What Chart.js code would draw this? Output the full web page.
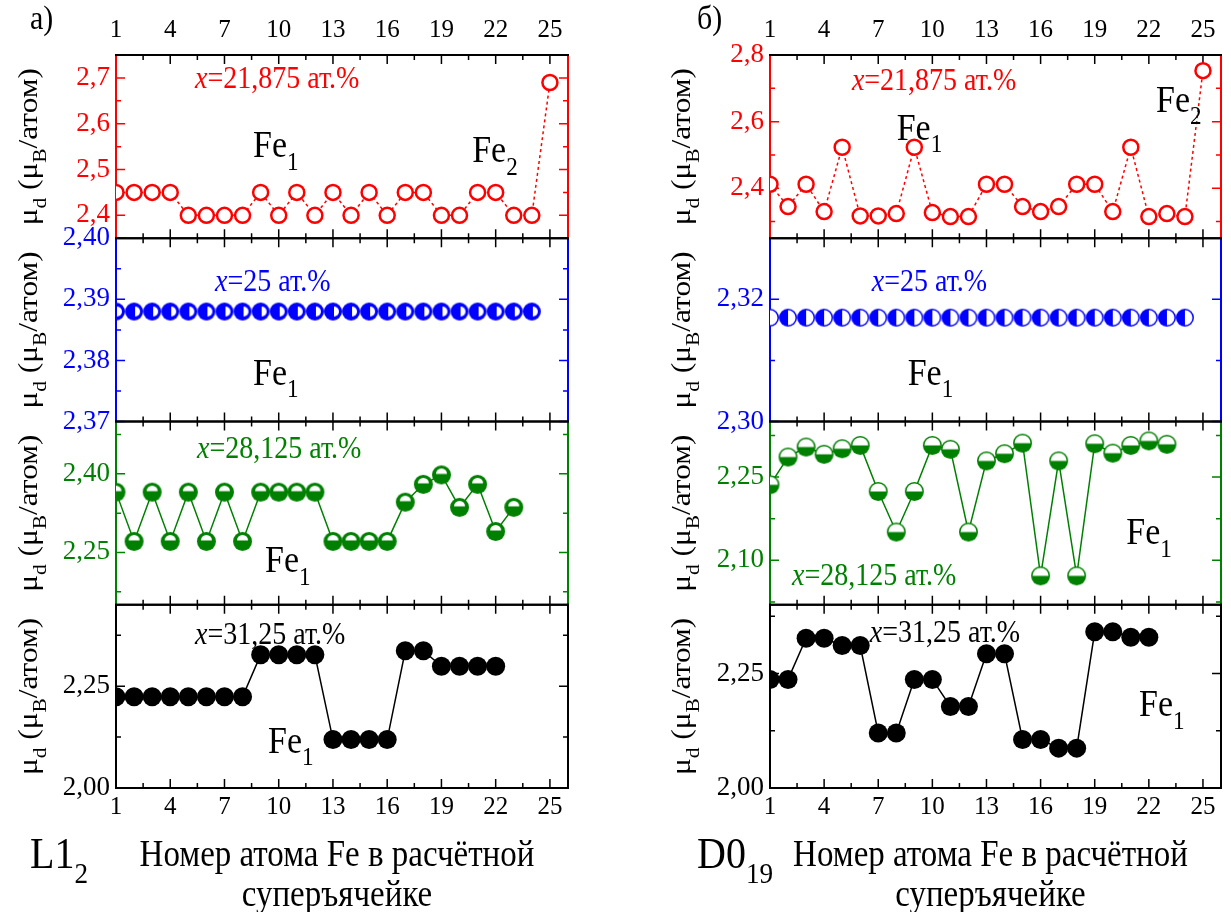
<!DOCTYPE html>
<html>
<head>
<meta charset="utf-8">
<script src="https://cdn.jsdelivr.net/npm/chart.js@4.4.0/dist/chart.umd.min.js"></script>
<style>
  body { margin: 0; background: #fff; width: 1231px; height: 912px; position: relative; overflow: hidden; }
  canvas { position: absolute; top: 0; }
  #l12 { left: 0; }
  #d019 { left: 640px; }
</style>
</head>
<body>
<canvas id="l12" width="620" height="912"></canvas>
<canvas id="d019" width="591" height="912"></canvas>
<script>
// номера атомов Fe в суперъячейке
const atoms = [1, 2, 3, 4, 5, 6, 7, 8, 9, 10, 11, 12, 13, 14, 15, 16, 17, 18, 19, 20, 21, 22, 23, 24, 25];
const atomTicks = [1, 4, 7, 10, 13, 16, 19, 22, 25];

// L1_2: магнитный момент mu_d для x = 21,875 / 25 / 28,125 / 31,25 ат.%
const l12Red = [2.45, 2.45, 2.45, 2.45, 2.40, 2.40, 2.40, 2.40, 2.45, 2.40, 2.45, 2.40, 2.45,
                2.40, 2.45, 2.40, 2.45, 2.45, 2.40, 2.40, 2.45, 2.45, 2.40, 2.40, 2.69];
const l12Blue = [2.388, 2.388, 2.388, 2.388, 2.388, 2.388, 2.388, 2.388, 2.388, 2.388, 2.388, 2.388,
                 2.388, 2.388, 2.388, 2.388, 2.388, 2.388, 2.388, 2.388, 2.388, 2.388, 2.388, 2.388];
const l12Green = [2.365, 2.271, 2.365, 2.271, 2.365, 2.271, 2.365, 2.271, 2.365, 2.365, 2.365, 2.365,
                  2.271, 2.271, 2.271, 2.271, 2.346, 2.380, 2.398, 2.336, 2.380, 2.290, 2.336];
const l12Black = [2.224, 2.224, 2.224, 2.224, 2.224, 2.224, 2.224, 2.224, 2.327, 2.327, 2.327,
                  2.327, 2.119, 2.119, 2.119, 2.119, 2.337, 2.337, 2.299, 2.299, 2.299, 2.299];

// D0_19
const d019Red = [2.412, 2.345, 2.412, 2.330, 2.523, 2.317, 2.317, 2.324, 2.523, 2.327, 2.315, 2.315, 2.412,
                 2.412, 2.345, 2.330, 2.345, 2.412, 2.412, 2.330, 2.523, 2.315, 2.324, 2.315, 2.753];
const d019Blue = [2.317, 2.317, 2.317, 2.317, 2.317, 2.317, 2.317, 2.317, 2.317, 2.317, 2.317, 2.317,
                  2.317, 2.317, 2.317, 2.317, 2.317, 2.317, 2.317, 2.317, 2.317, 2.317, 2.317, 2.317];
const d019Green = [2.236, 2.286, 2.304, 2.291, 2.301, 2.307, 2.224, 2.151, 2.224, 2.307, 2.300, 2.151,
                   2.279, 2.292, 2.311, 2.072, 2.279, 2.072, 2.310, 2.293, 2.307, 2.315, 2.309];
const d019Black = [2.237, 2.237, 2.327, 2.327, 2.311, 2.311, 2.120, 2.120, 2.237, 2.237, 2.178,
                   2.178, 2.293, 2.293, 2.106, 2.106, 2.087, 2.087, 2.341, 2.341, 2.329, 2.329];

// деления по осям y
const l12RedTicks = [2.4, 2.5, 2.6, 2.7];
const l12BlueTicks = [2.37, 2.38, 2.39, 2.40];
const l12GreenTicks = [2.25, 2.40];
const l12BlackTicks = [2.00, 2.25];
const d019RedTicks = [2.4, 2.6, 2.8];
const d019BlueTicks = [2.30, 2.32];
const d019GreenTicks = [2.10, 2.25];
const d019BlackTicks = [2.00, 2.25];

const SERIF = '"Liberation Serif", "DejaVu Serif", serif';
const RED = '#ff0000', BLUE = '#0000ff', GREEN = '#008000', BLACK = '#000000';
const STRETCH = 1.12; // шрифт в подписях чуть вытянут по высоте

// маркеры с половинной заливкой
function halfDot(color, r, edge, gap, whiteSide) {
  const c = document.createElement('canvas');
  const s = Math.ceil(2 * r + 2);
  c.width = c.height = s;
  const g = c.getContext('2d');
  const m = s / 2;
  g.fillStyle = color;
  g.beginPath(); g.arc(m, m, r, 0, Math.PI * 2); g.fill();
  g.fillStyle = '#fff';
  g.beginPath();
  if (whiteSide === 'right') {
    g.arc(m + gap, m, r - edge, -Math.PI / 2, Math.PI / 2);
  } else {
    g.arc(m, m - gap, r - edge, Math.PI, Math.PI * 2);
  }
  g.closePath(); g.fill();
  return c;
}

function pts(values) {
  return values.map((v, i) => ({ x: atoms[i], y: v }));
}

function fmt(dec) {
  return v => v.toFixed(dec).replace('.', ',');
}

// текст с нижними индексами и курсивом
function richWidth(ctx, parts, size) {
  let w = 0;
  parts.forEach(p => {
    ctx.font = (p.it ? 'italic ' : '') + (p.sub ? size * 0.68 : size) + 'px ' + SERIF;
    w += ctx.measureText(p.t).width;
  });
  return w;
}
function drawRich(ctx, parts, x, y, size, color) {
  ctx.fillStyle = color;
  ctx.textAlign = 'left';
  ctx.textBaseline = 'alphabetic';
  parts.forEach(p => {
    const fs = p.sub ? size * 0.68 : size;
    ctx.font = (p.it ? 'italic ' : '') + fs + 'px ' + SERIF;
    ctx.fillText(p.t, x, y + (p.sub ? size * 0.33 : 0));
    x += ctx.measureText(p.t).width;
  });
}
// тот же текст, растянутый по высоте
function drawTall(ctx, parts, x, y, size, color) {
  ctx.save();
  ctx.translate(x, y);
  ctx.scale(1, STRETCH);
  drawRich(ctx, parts, 0, 0, size, color);
  ctx.restore();
}

const yTitle = [{ t: 'μ' }, { t: 'd', sub: 1 }, { t: ' (μ' }, { t: 'B', sub: 1 }, { t: '/атом)' }];
const fe = n => [{ t: 'Fe' }, { t: String(n), sub: 1 }];
const conc = s => [{ t: 'x', it: 1 }, { t: s }];

const framePlugin = {
  id: 'frame',
  beforeDatasetsDraw(chart, args, opts) {
    const ctx = chart.ctx, a = chart.chartArea, xs = chart.scales.x;
    ctx.save();
    opts.panels.forEach(p => {
      const s = chart.scales[p.id];
      ctx.lineWidth = 1.5;
      ctx.strokeStyle = BLACK;
      for (let v = 1; v < 26; v += 1.5) {
        const px = xs.getPixelForValue(v);
        const len = (v - 1) % 3 === 0 ? 9 : 5;
        ctx.beginPath();
        ctx.moveTo(px, s.top); ctx.lineTo(px, s.top + len);
        ctx.moveTo(px, s.bottom); ctx.lineTo(px, s.bottom - len);
        ctx.stroke();
      }
      ctx.strokeStyle = p.color;
      const yt = s.ticks.map(t => [t.value, 9]).concat(p.minor.map(v => [v, 5]));
      yt.forEach(([v, len]) => {
        const py = s.getPixelForValue(v);
        ctx.beginPath();
        ctx.moveTo(a.left, py); ctx.lineTo(a.left + len, py);
        ctx.moveTo(a.right, py); ctx.lineTo(a.right - len, py);
        ctx.stroke();
      });
      ctx.lineWidth = 2;
      ctx.beginPath();
      ctx.moveTo(a.left, s.top); ctx.lineTo(a.left, s.bottom);
      ctx.moveTo(a.right, s.top); ctx.lineTo(a.right, s.bottom);
      ctx.stroke();
    });
    ctx.strokeStyle = BLACK;
    ctx.lineWidth = 2;
    opts.panels.forEach(p => {
      const s = chart.scales[p.id];
      ctx.beginPath();
      ctx.moveTo(a.left - 1, s.top); ctx.lineTo(a.right + 1, s.top);
      ctx.moveTo(a.left - 1, s.bottom); ctx.lineTo(a.right + 1, s.bottom);
      ctx.stroke();
    });
    ctx.restore();
  },
  afterDraw(chart, args, opts) {
    const ctx = chart.ctx, a = chart.chartArea, xs = chart.scales.x;
    ctx.save();
    opts.panels.forEach(p => {
      const s = chart.scales[p.id];
      // подпись оси y, повернутая и вытянутая вдоль строки
      const w = richWidth(ctx, yTitle, 28) * STRETCH;
      ctx.save();
      ctx.translate(opts.titleX, (s.top + s.bottom) / 2 + w / 2);
      ctx.rotate(-Math.PI / 2);
      ctx.scale(STRETCH, 1);
      drawRich(ctx, yTitle, 0, 0, 28, BLACK);
      ctx.restore();
      // надписи внутри панели
      p.notes.forEach(n => {
        drawTall(ctx, n.parts, xs.getPixelForValue(n.x), s.getPixelForValue(n.y) + n.size * 0.36,
                 n.size, n.color);
      });
    });
    // буква панели, тип структуры и подпись оси x
    drawTall(ctx, [{ t: opts.letter }], opts.letterX, 29, 30, BLACK);
    drawTall(ctx, opts.phase, opts.letterX, 868, 40, BLACK);
    ctx.fillStyle = BLACK;
    ctx.font = '33px ' + SERIF;
    ctx.textAlign = 'center';
    ctx.textBaseline = 'alphabetic';
    const cx = (a.left + a.right) / 2 - 5;
    [['Номер атома Fe в расчётной', 866], ['суперъячейке', 906]].forEach(([t, y]) => {
      ctx.save();
      ctx.translate(cx, y);
      ctx.scale(1, STRETCH);
      ctx.fillText(t, 0, 0);
      ctx.restore();
    });
    ctx.restore();
  }
};

function makeChart(id, o) {
  const xAxis = pos => ({
    type: 'linear', position: pos, min: 1, max: 26,
    afterBuildTicks: s => { s.ticks = atomTicks.map(v => ({ value: v })); },
    afterFit: s => { s.height = pos === 'top' ? 55 : 52; },
    grid: { display: false, drawTicks: false },
    border: { display: false },
    ticks: { color: BLACK, font: { family: SERIF, size: 25 }, padding: pos === 'top' ? 10 : 4,
             maxRotation: 0, autoSkip: false }
  });
  const scales = { x: xAxis('bottom'), x2: xAxis('top') };
  // в стопке слева Chart.js кладёт последнюю ось наверх
  o.panels.slice().reverse().forEach(p => {
    scales[p.id] = {
      type: 'linear', position: 'left', stack: 'col', stackWeight: 1,
      min: p.min, max: p.max,
      afterBuildTicks: s => { s.ticks = p.ticks.map(v => ({ value: v })); },
      afterFit: s => { s.width = o.axisW; },
      grid: { display: false, drawTicks: false },
      border: { display: false },
      ticks: { color: p.color, font: { family: SERIF, size: 27 }, padding: 6, autoSkip: false,
               callback: fmt(p.dec) }
    };
  });
  const datasets = o.panels.map(p => Object.assign({
    data: pts(p.values),
    yAxisID: p.id,
    xAxisID: 'x',
    borderColor: p.color,
    borderWidth: 1.5,
    pointBorderColor: p.color,
    pointBackgroundColor: p.color,
    tension: 0,
    fill: false
  }, p.style));
  return new Chart(document.getElementById(id), {
    type: 'line',
    data: { datasets },
    options: {
      responsive: false,
      animation: false,
      events: [],
      layout: { padding: { left: 0, right: o.padR, top: 0, bottom: 912 - 840 } },
      scales,
      plugins: {
        legend: { display: false },
        tooltip: { enabled: false },
        frame: o
      }
    },
    plugins: [framePlugin]
  });
}

const openRed = { pointStyle: 'circle', pointRadius: 7.5, pointBorderWidth: 2.5,
                  pointBackgroundColor: '#fff', borderDash: [3, 3] };
const dot = { pointStyle: 'circle', pointRadius: 9.5, pointBorderWidth: 0 };

makeChart('l12', {
  axisW: 116, padR: 52, titleX: 37, letter: 'а)', letterX: 30,
  phase: [{ t: 'L1' }, { t: '2', sub: 1 }],
  panels: [
    { id: 'y1', color: RED, min: 2.35, max: 2.75, ticks: l12RedTicks, minor: [2.45, 2.55, 2.65],
      dec: 1, values: l12Red, style: openRed,
      notes: [{ parts: conc('=21,875 ат.%'), x: 5.37, y: 2.70, size: 28, color: RED },
              { parts: fe(1), x: 8.58, y: 2.554, size: 34, color: BLACK },
              { parts: fe(2), x: 20.7, y: 2.543, size: 34, color: BLACK }] },
    { id: 'y2', color: BLUE, min: 2.37, max: 2.40, ticks: l12BlueTicks, minor: [2.375, 2.385, 2.395],
      dec: 2, values: l12Blue, style: { pointStyle: halfDot(BLUE, 9, 4, 1, 'right'), showLine: false },
      notes: [{ parts: conc('=25 ат.%'), x: 6.48, y: 2.393, size: 28, color: BLUE },
              { parts: fe(1), x: 8.58, y: 2.378, size: 34, color: BLACK }] },
    { id: 'y3', color: GREEN, min: 2.15, max: 2.50, ticks: l12GreenTicks, minor: [2.175, 2.325, 2.475],
      dec: 2, values: l12Green, style: { pointStyle: halfDot(GREEN, 9.5, 4, 1, 'top') },
      notes: [{ parts: conc('=28,125 ат.%'), x: 5.48, y: 2.449, size: 28, color: GREEN },
              { parts: fe(1), x: 9.24, y: 2.235, size: 34, color: BLACK }] },
    { id: 'y4', color: BLACK, min: 2.00, max: 2.45, ticks: l12BlackTicks, minor: [2.125, 2.375],
      dec: 2, values: l12Black, style: dot,
      notes: [{ parts: conc('=31,25 ат.%'), x: 5.37, y: 2.379, size: 28, color: BLACK },
              { parts: fe(1), x: 9.41, y: 2.117, size: 34, color: BLACK }] }
  ]
});

makeChart('d019', {
  axisW: 130, padR: 9, titleX: 50, letter: 'б)', letterX: 57,
  phase: [{ t: 'D0' }, { t: '19', sub: 1 }],
  panels: [
    { id: 'y1', color: RED, min: 2.25, max: 2.80, ticks: d019RedTicks, minor: [2.3, 2.5, 2.7],
      dec: 1, values: d019Red, style: openRed,
      notes: [{ parts: conc('=21,875 ат.%'), x: 5.54, y: 2.725, size: 28, color: RED },
              { parts: fe(1), x: 8.02, y: 2.582, size: 34, color: BLACK },
              { parts: fe(2), x: 22.4, y: 2.666, size: 34, color: BLACK }] },
    { id: 'y2', color: BLUE, min: 2.30, max: 2.33, ticks: d019BlueTicks, minor: [2.31],
      dec: 2, values: d019Blue, style: { pointStyle: halfDot(BLUE, 9, 1.5, 0, 'right'), showLine: false },
      notes: [{ parts: conc('=25 ат.%'), x: 6.64, y: 2.323, size: 28, color: BLUE },
              { parts: fe(1), x: 8.63, y: 2.308, size: 34, color: BLACK }] },
    { id: 'y3', color: GREEN, min: 2.02, max: 2.35, ticks: d019GreenTicks, minor: [2.025, 2.175, 2.325],
      dec: 2, values: d019Green, style: { pointStyle: halfDot(GREEN, 9.5, 1.5, 0, 'top') },
      notes: [{ parts: conc('=28,125 ат.%'), x: 2.22, y: 2.073, size: 28, color: GREEN },
              { parts: fe(1), x: 20.75, y: 2.151, size: 34, color: BLACK }] },
    { id: 'y4', color: BLACK, min: 2.00, max: 2.40, ticks: d019BlackTicks, minor: [2.125, 2.375],
      dec: 2, values: d019Black, style: dot,
      notes: [{ parts: conc('=31,25 ат.%'), x: 6.53, y: 2.341, size: 28, color: BLACK },
              { parts: fe(1), x: 21.46, y: 2.184, size: 34, color: BLACK }] }
  ]
});
</script>
</body>
</html>
